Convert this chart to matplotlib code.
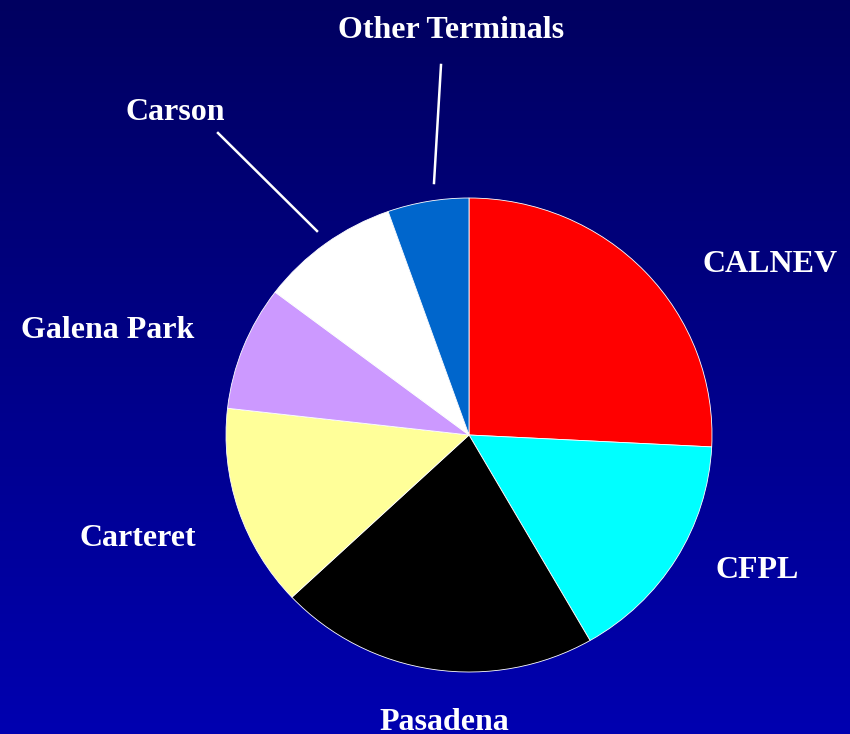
import numpy as np
import matplotlib.pyplot as plt

# terminal shares (percent), clockwise from 12 o'clock
terminals = ["CALNEV", "CFPL", "Pasadena", "Carteret", "Galena Park", "Carson", "Other Terminals"]
shares = [25.8, 15.9, 21.3, 13.8, 8.5, 9.3, 5.4]
colors = ["#FF0000", "#00FFFF", "#000000", "#FFFF99", "#CC99FF", "#FFFFFF", "#0066CC"]

W, H = 850, 734
fig = plt.figure(figsize=(W / 100, H / 100), dpi=100)

# gradient background
bg = fig.add_axes([0, 0, 1, 1])
grad = np.linspace(0, 1, 256).reshape(-1, 1)
top = np.array([0x00, 0x00, 0x60]) / 255
bot = np.array([0x00, 0x00, 0xB0]) / 255
img = top + grad[..., None] * (bot - top)
bg.imshow(img, aspect="auto", extent=[0, W, H, 0])
bg.set_xlim(0, W)
bg.set_ylim(H, 0)
bg.axis("off")

# pie axes, centre (469, 435) px, slightly wider than tall
cx, cy, rx, ry = 469, 435, 243, 237
ax = fig.add_axes([(cx - rx) / W, (H - cy - ry) / H, 2 * rx / W, 2 * ry / H])
ax.pie(shares, colors=colors, startangle=90, counterclock=False,
       wedgeprops=dict(edgecolor="white", linewidth=0.6))
ax.set_xlim(-1, 1)
ax.set_ylim(-1, 1)
ax.set_aspect("auto")
ax.axis("off")

font = dict(family=["Liberation Serif", "DejaVu Serif"], fontweight="bold",
            fontsize=23, color="white", ha="center", va="center")

label_px = {
    "Other Terminals": (451, 30),
    "Carson": (175, 113),
    "CALNEV": (770, 265),
    "Galena Park": (108, 331),
    "Carteret": (138, 539),
    "CFPL": (757, 571),
    "Pasadena": (444, 722),
}
for name in terminals:
    x, y = label_px[name]
    bg.text(x, y, name, **font)

# leader lines
bg.plot([441, 434], [65, 183], color="white", lw=1.8)
bg.plot([218, 317], [133, 231], color="white", lw=1.8)

fig.savefig("out.png", dpi=100)
